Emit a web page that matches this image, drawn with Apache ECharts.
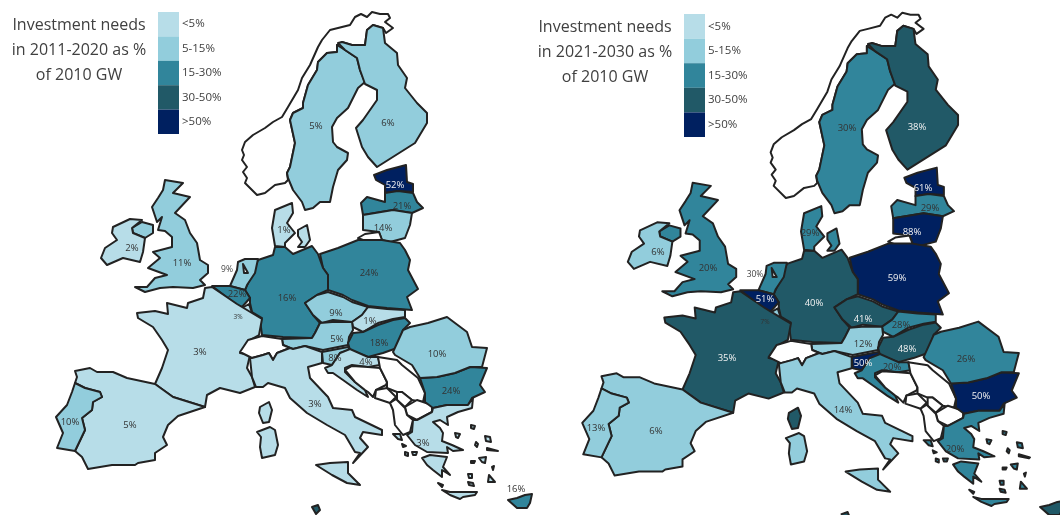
<!DOCTYPE html>
<html>
<head>
<meta charset="utf-8">
<title>Investment needs</title>
<style>html,body{margin:0;background:#fff}#chart{width:1060px;height:515px}</style>
<script src="https://cdn.jsdelivr.net/npm/echarts@6/dist/echarts.min.js"></script>
</head>
<body>
<div id="chart"></div>
<script>
// values (a few carry a decimal because the band colour disagrees with the rounded label)
var countries = ['Sweden','Finland','Estonia','Latvia','Lithuania','Poland','Germany','Denmark','Netherlands','Belgium','Luxembourg','France','UK','Ireland','Spain','Portugal','Italy','Austria','Czechia','Slovakia','Hungary','Romania','Bulgaria','Slovenia','Croatia','Greece','Cyprus','Malta']
var values2020 = [5.2,6,52,21,14,24,16,1,9,22,3,3,11,2,4.6,10,3,5,9,1,18,10,24,8,4,3,16,35]
var values2030 = [29.7,38,61,29,88,59,40,29,29.6,51,7,35,20,6,6,13,14,12,41,28,48,26,50.4,50.4,20,20,35,35]
var bandLabels = ['<5%','5-15%','15-30%','30-50%','>50%']
var bandLimits = [5,15,30,50]
var bandColors = ['#b7dde8','#92cddc','#31859b','#215967','#002060']

// where each label sits in the picture, same order as countries
var labels2020 = [[316,126],[388,123],[395,185],[402,206],[383,228],[369,273],[287,298],[284,230],[227,270],[237,294],[238,317],[200,352],[182,263],[132,248],[130,425],[70,422],[315,404],[337,339],[336,313],[370,321],[379,343],[437,354],[451,391],[335,358],[366,362],[423,443],[516,489],null]
var labels2030 = [[847,128],[917,127],[923,188],[930,208],[912,232],[897,278],[814,303],[810,233],[755,275],[765,299],[765,322],[727,358],[708,268],[658,252],[656,431],[596,428],[843,410],[863,344],[863,319],[901,325],[907,349],[966,359],[981,396],[863,363],[892,367],[955,449],null,null]

// base map outlines, hand traced
var outlines = {
  Norway: [[[243,172],[247,167],[242,160],[244,155],[242,150],[245,142],[253,135],[265,128],[273,122],[282,117],[288,107],[298,90],[302,78],[310,65],[318,47],[322,40],[330,30],[338,28],[350,25],[355,17],[361,14],[367,17],[372,12],[380,14],[388,14],[390,18],[385,22],[393,28],[386,33],[383,28],[373,25],[367,30],[365,45],[352,45],[342,42],[337,45],[337,52],[327,53],[318,62],[317,70],[308,85],[303,103],[303,108],[293,113],[290,120],[295,143],[290,167],[287,173],[288,180],[285,183],[275,185],[265,193],[257,195],[245,183],[247,178]]],
  Sweden: [[[337,45],[337,52],[327,53],[318,62],[317,70],[308,85],[303,103],[303,108],[293,113],[290,120],[295,143],[290,167],[287,173],[288,178],[293,190],[302,202],[305,210],[313,208],[320,202],[330,202],[333,187],[338,170],[347,160],[348,153],[337,147],[333,142],[332,127],[337,118],[348,108],[358,88],[365,82],[360,70],[357,58],[345,50]]],
  Finland: [[[338,43],[342,42],[352,45],[365,45],[367,30],[373,25],[383,28],[385,43],[397,53],[398,65],[407,78],[405,88],[417,103],[427,113],[427,123],[415,143],[377,167],[368,157],[362,147],[356,128],[363,120],[377,100],[377,90],[365,84],[360,70],[357,58],[345,50]]],
  Estonia: [[[374,175],[387,170],[406,165],[407,182],[413,184],[413,192],[398,191],[385,193],[385,185],[376,180]]],
  Latvia: [[[385,193],[398,191],[413,193],[417,202],[423,208],[412,213],[393,210],[363,215],[361,203],[367,197],[385,202]]],
  Lithuania: [[[363,215],[393,210],[412,213],[410,225],[405,238],[390,242],[382,240],[379,232],[363,230]]],
  Kaliningrad: [[[358,238],[365,234],[379,232],[382,240],[368,242]]],
  Poland: [[[320,254],[338,248],[358,240],[382,240],[400,243],[405,250],[410,260],[408,270],[418,289],[407,297],[412,310],[387,308],[368,306],[352,300],[343,295],[328,290],[328,275],[323,268]]],
  Germany: [[[275,247],[285,247],[293,254],[312,246],[318,254],[323,268],[328,275],[328,290],[317,295],[305,303],[313,315],[320,323],[315,333],[312,338],[283,337],[262,335],[260,320],[262,318],[252,312],[250,303],[250,298],[245,290],[258,260],[273,255]]],
  Netherlands: [[[238,262],[245,259],[258,259],[255,273],[247,285],[245,290],[230,286],[237,270]]],
  IJsselmeer: [[[243,264],[248,273],[244,273]]],
  Belgium: [[[212,286],[230,286],[245,290],[250,298],[242,307],[237,305]]],
  Luxembourg: [[[242,308],[249,304],[252,313],[246,314]]],
  France: [[[137,313],[155,311],[168,314],[167,303],[187,308],[188,303],[203,298],[205,288],[212,287],[237,304],[252,313],[262,319],[259,335],[250,340],[240,353],[250,355],[247,368],[252,377],[255,387],[240,393],[220,388],[207,395],[205,407],[173,397],[155,384],[162,368],[168,350],[162,340],[153,327],[138,318]],
    [[260,407],[269,402],[272,410],[269,422],[263,423],[259,413]]],
  Spain: [[[75,371],[90,368],[97,372],[113,372],[127,378],[155,384],[173,397],[205,407],[178,416],[168,425],[163,437],[167,445],[155,453],[155,460],[138,463],[135,465],[112,465],[88,469],[82,457],[75,451],[85,430],[82,418],[92,410],[93,402],[102,397],[100,392],[85,388],[75,383],[77,377]]],
  Portugal: [[[75,383],[85,388],[100,392],[102,397],[93,402],[92,410],[82,418],[85,430],[75,451],[57,448],[63,433],[56,417],[67,405],[72,392]]],
  UK: [[[165,180],[183,183],[173,193],[190,197],[175,213],[185,220],[190,233],[197,243],[200,260],[208,265],[208,273],[200,280],[205,285],[193,288],[173,287],[160,288],[145,292],[135,287],[147,287],[155,278],[167,275],[148,268],[160,258],[153,252],[172,247],[172,237],[165,231],[158,230],[162,217],[157,222],[152,207],[158,198],[163,190]],
    [[132,228],[142,222],[153,225],[153,233],[145,238],[133,233]]],
  Ireland: [[[113,227],[130,219],[142,220],[132,228],[133,233],[145,238],[143,252],[140,262],[123,258],[107,265],[101,258],[105,248],[117,240],[112,233]]],
  Denmark: [[[275,210],[292,203],[293,213],[287,223],[295,233],[285,243],[285,247],[275,246],[272,228]],
    [[298,230],[307,225],[310,240],[305,247],[298,247],[302,242],[298,236]]],
  Czechia: [[[305,303],[317,295],[328,292],[343,297],[352,302],[368,307],[362,315],[352,322],[333,320],[322,323],[313,315]]],
  Slovakia: [[[368,307],[387,309],[405,310],[405,317],[393,319],[378,323],[363,332],[353,327],[352,322],[362,315]]],
  Austria: [[[320,323],[332,322],[352,322],[353,330],[349,337],[348,345],[323,350],[305,346],[293,349],[283,345],[282,339],[312,338],[315,333]]],
  Switzerland: [[[240,352],[248,340],[262,336],[282,339],[283,345],[290,348],[277,353],[273,360],[269,353],[263,355],[252,358]]],
  Hungary: [[[353,333],[363,332],[378,325],[393,320],[405,318],[410,323],[403,330],[397,348],[383,353],[368,357],[350,350],[348,343]]],
  Slovenia: [[[322,352],[348,347],[350,350],[340,353],[332,365],[323,363]]],
  Croatia: [[[350,349],[368,357],[378,357],[380,365],[368,367],[352,365],[345,368],[345,372],[355,382],[365,390],[368,397],[357,390],[343,380],[333,373],[328,373],[325,368],[332,365],[340,353]]],
  Bosnia: [[[345,370],[352,366],[368,367],[380,368],[387,382],[386,385],[376,390],[373,397],[368,392],[365,390],[355,382]]],
  Serbia: [[[378,357],[397,360],[402,365],[418,378],[425,393],[423,402],[412,400],[402,392],[397,392],[387,388],[387,382],[380,368]]],
  Kosovo: [[[397,392],[402,392],[412,400],[410,402],[405,407],[397,400]]],
  Montenegro: [[[376,390],[387,388],[396,397],[390,403],[375,398]]],
  Macedonia: [[[405,407],[417,400],[432,405],[432,412],[417,420],[407,415]]],
  Albania: [[[390,403],[396,399],[405,408],[407,415],[413,420],[410,432],[403,435],[395,425],[393,410]]],
  Bulgaria: [[[420,378],[437,377],[455,373],[470,367],[487,368],[480,385],[485,392],[472,398],[468,405],[447,405],[433,408],[425,402],[425,393]]],
  Romania: [[[410,327],[428,323],[447,317],[467,332],[472,347],[487,348],[482,367],[470,367],[455,373],[437,377],[420,378],[412,365],[395,355],[393,352],[403,330]]],
  Greece: [[[433,408],[447,405],[468,405],[473,398],[472,408],[458,412],[447,417],[448,425],[440,420],[433,422],[440,428],[443,433],[442,441],[452,445],[463,450],[453,451],[447,447],[448,453],[427,452],[415,445],[407,435],[412,432],[413,420],[417,420],[432,412]],
    [[422,458],[430,455],[447,457],[443,467],[450,475],[442,470],[442,477],[433,470],[427,465]],
    [[442,490],[450,492],[477,492],[475,495],[463,497],[460,499],[450,495]],
    [[393,434],[400,434],[402,440],[398,439]],[[402,444],[406,446],[403,447]],[[405,452],[408,453],[408,456],[405,455]],[[412,452],[417,452],[416,455],[413,455]],
    [[471,425],[475,426],[474,429],[471,428]],[[455,433],[460,434],[458,438],[456,437]],[[485,436],[490,437],[491,442],[486,441]],[[476,442],[478,444],[477,447],[475,445]],
    [[487,448],[498,451],[497,452],[487,450]],[[471,461],[475,461],[474,463],[471,463]],[[479,458],[486,457],[485,463],[482,462]],[[492,467],[494,466],[493,470]],
    [[468,474],[472,474],[472,478],[469,478]],[[468,482],[473,483],[474,486],[469,485]],[[489,475],[495,482],[488,482]],[[438,483],[443,485],[442,487]]],
  Italy: [[[250,358],[252,377],[256,387],[263,387],[268,383],[285,388],[290,398],[307,413],[327,425],[345,435],[355,452],[360,453],[353,463],[368,447],[360,438],[363,432],[382,435],[382,430],[355,417],[352,410],[333,408],[328,397],[310,378],[308,367],[322,363],[322,352],[305,346],[293,349],[290,348],[277,353],[273,360],[269,353],[263,355],[252,358]],
    [[316,465],[330,463],[348,462],[348,473],[360,485],[347,483],[332,475]],
    [[257,432],[270,427],[275,430],[278,445],[275,455],[262,458],[260,447],[261,437]]],
  Cyprus: [[[508,500],[517,498],[525,495],[532,494],[530,503],[527,508],[517,508]]],
  Malta: [[[312,507],[318,505],[320,510],[316,514]]]
}

function buildGeo(points, ox, oy, scale){
    var features = []
    Object.keys(outlines).forEach(function(name){
        var props = {name: name}
        var i = countries.indexOf(name)
        if (i >= 0 && points[i]) props.cp = [(points[i][0]-ox)/scale, (points[i][1]-oy)/scale]
        features.push({type:'Feature', properties:props, geometry:{type:'MultiPolygon', coordinates: outlines[name].map(function(r){return [r]})}})
    })
    return {type:'FeatureCollection', features:features}
}
function labelFor(name, value){
    var band = bandLimits.filter(function(l){return value >= l}).length
    var label = {show:true, color: band >= 3 ? '#f2f2f2' : '#333', fontSize:9.5}
    if (name == 'Luxembourg') { label.fontSize = 6.5; label.color = '#333' }
    if (name == 'Netherlands') { label.fontSize = 8.5; label.color = '#444' }
    return label
}
function seriesData(values, points){
    return countries.map(function(name, i){
        return {name:name, value:values[i], label: points[i] ? labelFor(name, values[i]) : {show:false}}
    })
}
function bandPieces(){
    return bandLabels.map(function(text, i){
        var piece = {label:text, color:bandColors[i]}
        if (i > 0) piece.gte = bandLimits[i-1]
        if (i < bandLimits.length) piece.lt = bandLimits[i]
        return piece
    })
}
var mapScale2030 = 1.013
var mapLeft2030 = 525.5
echarts.registerMap('needs2020', buildGeo(labels2020, 0, 0, 1))
echarts.registerMap('needs2030', buildGeo(labels2030, mapLeft2030, 0.5, mapScale2030))

var flat = {project:function(p){return p}, unproject:function(p){return p}}
function mapSeries(mapName, values, points, left, top, scale){
    return {
        type:'map', map:mapName, projection:flat, silent:true, roam:false,
        boundingCoords:[[0,0],[527,515]],
        left:left, top:top, width:527*scale, height:515*scale,
        label:{show:true, fontFamily:'Open Sans', fontSize:9.5, color:'#333', formatter:function(p){return isNaN(p.value) ? '' : Math.round(p.value)+'%'}},
        itemStyle:{areaColor:'#fff', borderColor:'#222', borderWidth:2, borderJoin:'round'},
        data:seriesData(values, points)
    }
}
function legend(seriesIndex, left, top, height){
    return {
        type:'piecewise', seriesIndex:seriesIndex, left:left, top:top, orient:'vertical', align:'left',
        itemWidth:21, itemHeight:height, itemGap:0, itemSymbol:'rect', textGap:3, selectedMode:false, hoverLink:false,
        inverse:true, padding:0, pieces:bandPieces(),
        textStyle:{fontFamily:'Open Sans', fontSize:11.5, color:'#404040', padding:[4,0,0,0]}
    }
}
function heading(text, x, y){
    return {text:text, left:x, top:y, textAlign:'center', padding:0,
        textStyle:{fontFamily:'Open Sans', fontWeight:'normal', fontSize:16, lineHeight:25, color:'#404040'}}
}

var chart = echarts.init(document.getElementById('chart'))
chart.setOption({
    animation:false,
    backgroundColor:'#fff',
    title:[heading('Investment needs\nin 2011-2020 as %\nof 2010 GW', 79, 13), heading('Investment needs\nin 2021-2030 as %\nof 2010 GW', 605, 15)],
    visualMap:[legend(0, 158, 12, 24.4), legend(1, 684, 14, 24.6)],
    series:[mapSeries('needs2020', values2020, labels2020, 0, 0, 1), mapSeries('needs2030', values2030, labels2030, mapLeft2030, 0.5, mapScale2030)]
})
</script>
</body>
</html>
